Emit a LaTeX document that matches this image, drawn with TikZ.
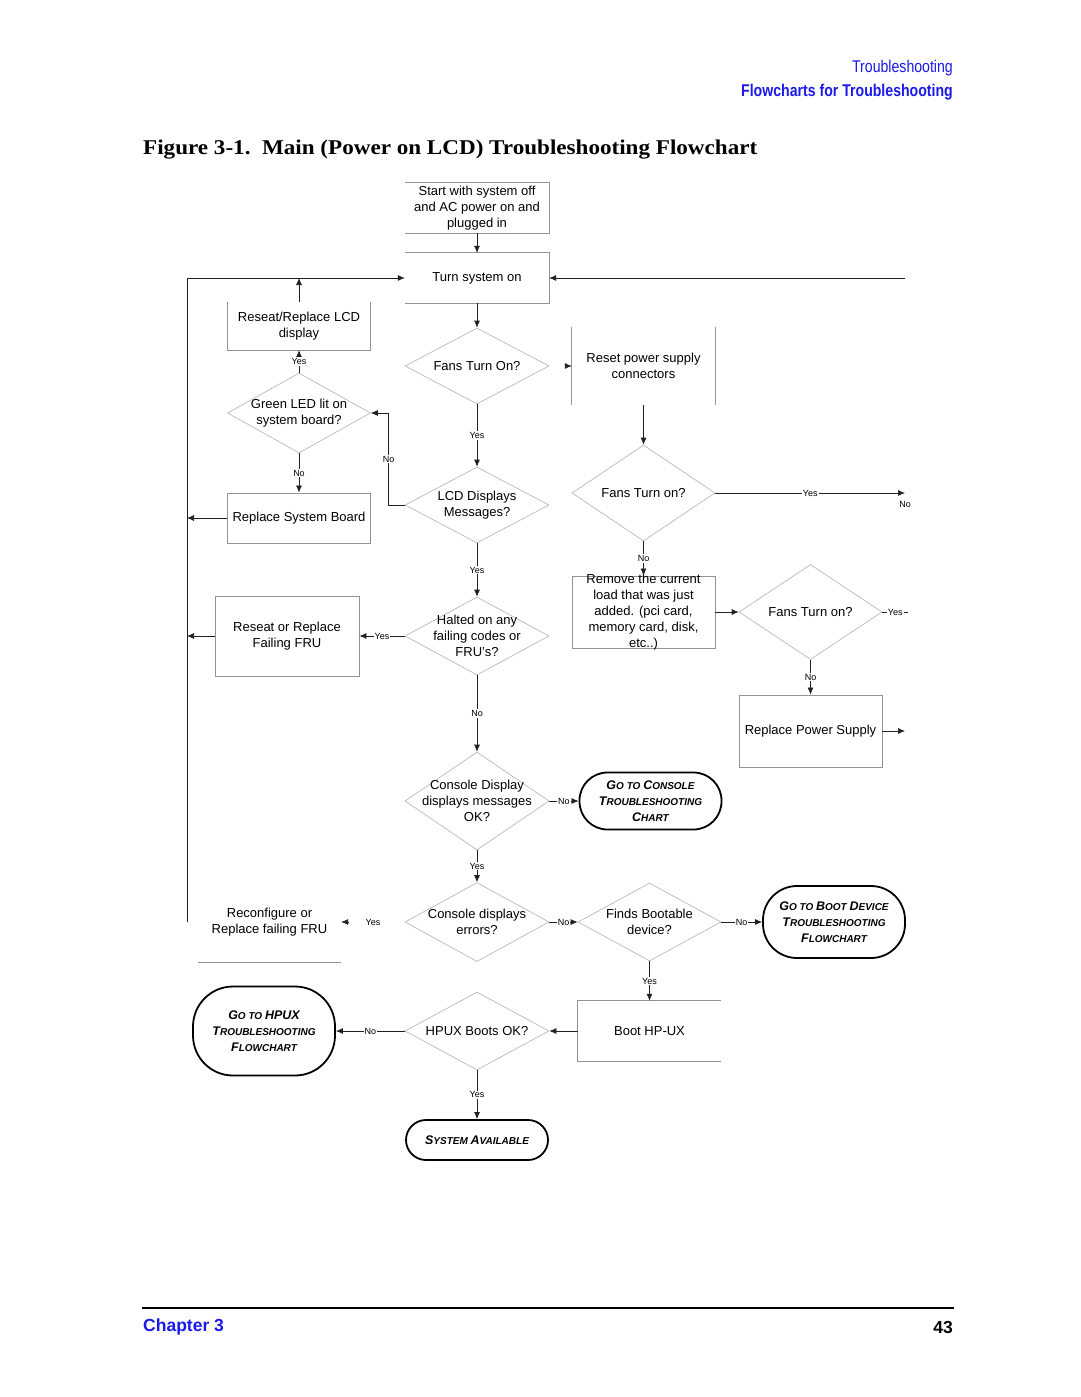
\documentclass[tikz,border=0pt]{standalone}
\usepackage{fontspec}
\setmainfont{Liberation Sans}
\newfontfamily\titlefont[FakeStretch=1.1]{Liberation Serif}
\newfontfamily\narrowfont[FakeStretch=0.83]{Liberation Sans}
\usetikzlibrary{shapes.geometric,arrows.meta,positioning}
\definecolor{hpblue}{RGB}{25,25,235}
\newcommand\tc[1]{{\fontsize{12.5}{16}\selectfont #1}}
\begin{document}
\begin{tikzpicture}[x=1pt,y=-1pt,
	every node/.style={font=\fontsize{13}{16}\selectfont,inner sep=0pt,align=center},
	box/.style={minimum width=144pt,minimum height=50pt},
	boxd/.style={box,draw=gray!85,line width=0.8pt},
	edge/.style={draw=gray!85,line width=0.8pt},
	dia/.style={diamond,draw=gray!55,line width=0.7pt,minimum width=144pt,minimum height=78pt},
	term/.style={draw,line width=1.8pt,rounded corners=28pt,minimum width=142pt,minimum height=57pt,
		font=\fontsize{10}{16}\selectfont\bfseries\itshape},
	lab/.style={font=\fontsize{9}{10}\selectfont,fill=white,inner sep=1pt},
	arr/.style={draw=gray!25!black,line width=0.7pt,-{Latex[length=7pt,width=6pt]}},
	ln/.style={draw=gray!25!black,line width=0.7pt}]
\useasboundingbox (0,0) rectangle (1080,1397);
% page header and footer
\node[anchor=east,font=\narrowfont\fontsize{17}{20}\selectfont,text=hpblue] (head1) at (953,68) {Troubleshooting};
\node[anchor=east,font=\narrowfont\bfseries\fontsize{17}{20}\selectfont,text=hpblue] (head2) at (953,92) {Flowcharts for Troubleshooting};
\node[anchor=west,font=\titlefont\bfseries\fontsize{21}{24}\selectfont] (title) at (143,150) {Figure 3-1.\ \ Main (Power on LCD) Troubleshooting Flowchart};
\draw[line width=2pt] (142,1308) -- (954,1308);
\node[anchor=west,font=\bfseries\fontsize{17.5}{20}\selectfont,text=hpblue] (chap) at (143,1327) {Chapter 3};
\node[anchor=east,font=\bfseries\fontsize{17.5}{20}\selectfont] (page) at (953,1327) {43};
% main column
\node[box] (start) at (477,208) {Start with system off\\and AC power on and\\plugged in};
\node[box] (turn) at (477,278) {Turn system on};
\node[dia,minimum height=76pt,label={center:Fans Turn On?}] (fans1) at (477,366) {};
\node[dia,minimum height=76pt,label={center:LCD Displays\\Messages?}] (lcd) at (477,505) {};
\node[dia,label={center:Halted on any\\failing codes or\\FRU's?}] (halt) at (477,636) {};
\node[dia,minimum height=98pt,label={center:Console Display\\displays messages\\OK?}] (cons) at (477,801) {};
\node[dia,minimum height=79pt,label={center:Console displays\\errors?}] (cerr) at (477,922) {};
\node[dia,label={center:HPUX Boots OK?}] (hpux) at (477,1031) {};
\node[term,minimum height=40pt,rounded corners=20pt] (avail) at (477,1140) {\tc{S}YSTEM \tc{A}VAILABLE};
% left column
\node[box,minimum width=143pt,minimum height=48pt] (lcdfix) at (299,326) {Reseat/Replace LCD\\display};
\node[dia,minimum width=143pt,minimum height=80pt,label={center:Green LED lit on\\system board?}] (led) at (299,413) {};
\node[boxd,minimum width=143pt] (sysb) at (299,518) {Replace System Board};
\node[boxd,minimum height=80pt] (fru) at (287,636) {Reseat or Replace\\Failing FRU};
\node[box,minimum width=143pt,minimum height=80pt] (recon) at (269.5,922) {Reconfigure or\\Replace failing FRU};
\node[term,minimum height=89pt,rounded corners=40pt] (gohpux) at (264,1031) {\tc{G}O TO \tc{HPUX}\\\tc{T}ROUBLESHOOTING\\\tc{F}LOWCHART};
% right column
\node[box,minimum width=143pt,minimum height=78pt] (psreset) at (643.5,366) {Reset power supply\\connectors};
\node[dia,minimum width=143pt,minimum height=96pt,label={center:Fans Turn on?}] (fans2) at (643.5,493) {};
\node[boxd,minimum width=143pt,minimum height=72pt,label={center:Remove the current\\load that was just\\added. (pci card,\\memory card, disk,\\etc..)}] (unload) at (643.5,612) {};
\node[dia,minimum width=143pt,minimum height=95pt,label={center:Fans Turn on?}] (fans3) at (810.5,612) {};
\node[boxd,minimum width=143pt,minimum height=72pt] (psu) at (810.5,731) {Replace Power Supply};
\node[term] (gocons) at (650.5,801) {\tc{G}O TO \tc{C}ONSOLE\\\tc{T}ROUBLESHOOTING\\\tc{C}HART};
\node[dia,minimum width=143pt,label={center:Finds Bootable\\device?}] (boot) at (649.5,922) {};
\node[term,minimum height=72pt,rounded corners=34pt] (godev) at (834,922) {\tc{G}O TO \tc{B}OOT \tc{D}EVICE\\\tc{T}ROUBLESHOOTING\\\tc{F}LOWCHART};
\node[box,minimum width=143pt,minimum height=60pt] (hpuxboot) at (649.5,1031) {Boot HP-UX};
\node[font=\fontsize{9}{10}\selectfont] (fans2no) at (905,504) {No};
% open box edges
\draw[edge] (start.north west) -- (start.north east) -- (start.south east) -- (start.south west);
\draw[edge] (turn.north west) -- (turn.north east) -- (turn.south east) -- (turn.south west);
\draw[edge] (lcdfix.north west) -- (lcdfix.south west) -- (lcdfix.south east) -- (lcdfix.north east);
\draw[edge] (psreset.north west) -- (psreset.south west) (psreset.north east) -- (psreset.south east);
\draw[edge] (hpuxboot.north east) -- (hpuxboot.north west) -- (hpuxboot.south west) -- (hpuxboot.south east);
\draw[edge] (recon.south west) -- (recon.south east);
% loop lines
\coordinate (bustop) at (187,278);
\coordinate (busbot) at (187,922);
\coordinate (rtop) at (905,278);
\coordinate (fans2out) at (905,493);
\coordinate (fans3out) at (908,612);
\coordinate (psuout) at (905,731);
\draw[ln] (busbot) -- (bustop);
\draw[arr] (bustop) -- (turn.west);
\draw[arr] (rtop) -- (turn.east);
% connectors
\draw[arr] (start) -- (turn);
\draw[arr] (turn) -- (fans1);
\draw[arr] (fans1) -- node[lab]{Yes} (lcd);
\draw[arr] (lcd) -- node[lab]{Yes} (halt);
\draw[arr] (halt) -- node[lab]{No} (cons);
\draw[arr] (cons) -- node[lab]{Yes} (cerr);
\draw[arr] (hpux) -- node[lab]{Yes} (avail);
\draw[arr] (lcdfix) -- (lcdfix.north |- bustop);
\draw[arr] (led) -- node[lab]{Yes} (lcdfix);
\draw[arr] (led) -- node[lab]{No} (sysb);
\draw[arr] (lcd.west) -- ++(-16,0) |- node[lab,pos=0.25]{No} (led.east);
\draw[arr] (sysb.west) -- (sysb.west -| bustop);
\draw[arr] (halt) -- node[lab]{Yes} (fru);
\draw[arr] (fru.west) -- (fru.west -| bustop);
\draw[arr,shorten <=56pt] (cerr) -- node[lab]{Yes} (recon);
\draw[arr] (hpux) -- node[lab]{No} (gohpux);
\draw[arr,shorten <=16pt] (fans1) -- (psreset);
\draw[arr] (psreset) -- (fans2);
\draw[arr] (fans2) -- node[lab]{Yes} (fans2out);
\draw[arr] (fans2) -- node[lab]{No} (unload);
\draw[arr] (unload) -- (fans3);
\draw[ln] (fans3) -- node[lab]{Yes} (fans3out);
\draw[arr] (fans3) -- node[lab]{No} (psu);
\draw[arr] (psu) -- (psuout);
\draw[arr] (cons) -- node[lab]{No} (gocons);
\draw[arr] (cerr) -- node[lab]{No} (boot);
\draw[arr] (boot) -- node[lab]{No} (godev);
\draw[arr] (boot) -- node[lab]{Yes} (hpuxboot);
\draw[arr] (hpuxboot) -- (hpux);
\end{tikzpicture}
\end{document}
